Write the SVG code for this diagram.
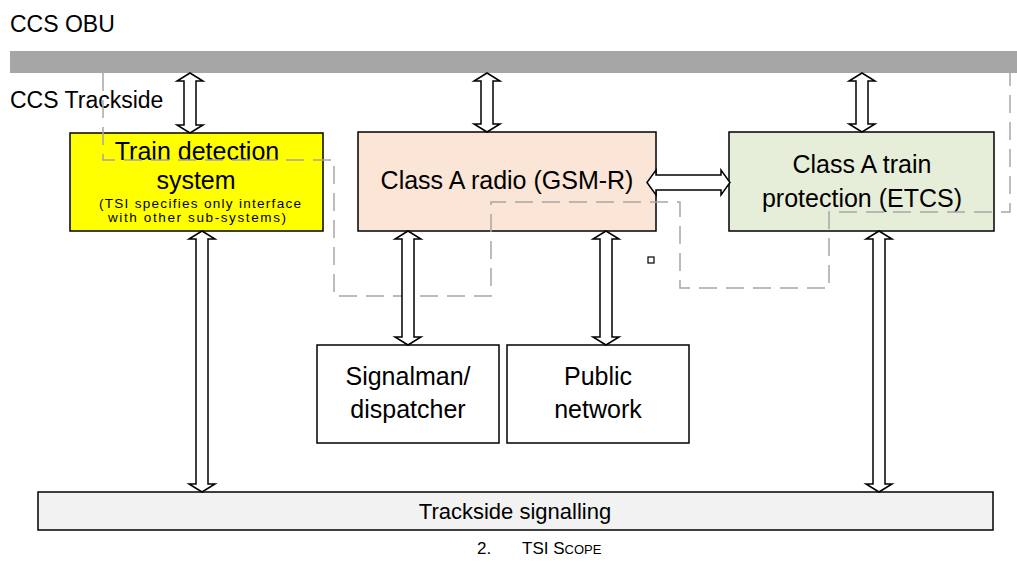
<svg xmlns="http://www.w3.org/2000/svg" width="1017" height="562" viewBox="0 0 1017 562">
<style>
text{font-family:"Liberation Sans",Arial,sans-serif;fill:#000}
.box{stroke:#000;stroke-width:1.5}
.arr{fill:#fff;stroke:#000;stroke-width:1.5;stroke-linejoin:miter}
.lbl{font-size:25px;text-anchor:middle}
.small{font-size:13.5px;text-anchor:middle}
.dash{fill:none;stroke:#a6a6a6;stroke-width:1.5;stroke-dasharray:18 9}
</style>
<rect width="1017" height="562" fill="#fff"/>
<g id="obu-bar">
<rect x="10" y="51" width="1007" height="22" fill="#a6a6a6"/>
<text x="10" y="32" font-size="23px">CCS OBU</text>
<text x="10" y="108" font-size="23px">CCS Trackside</text>
</g>
<g id="train-detection">
<rect class="box" x="70" y="133" width="253" height="98" fill="#ffff00"/>
<text class="lbl" x="197" y="160" font-size="26px">Train detection</text>
<text class="lbl" x="196" y="189" font-size="26px">system</text>
<text class="small" x="200" y="208" textLength="202" lengthAdjust="spacing">(TSI specifies only interface</text>
<text class="small" x="197" y="222" textLength="178" lengthAdjust="spacing">with other sub-systems)</text>
</g>
<g id="radio">
<rect class="box" x="358" y="132" width="298" height="99" fill="#fbe5d6"/>
<text class="lbl" x="507" y="189">Class A radio (GSM-R)</text>
</g>
<g id="etcs">
<rect class="box" x="729" y="132" width="265" height="99" fill="#e6eed9"/>
<text class="lbl" x="862" y="173">Class A train</text>
<text class="lbl" x="862" y="207">protection (ETCS)</text>
</g>
<g id="signalman">
<rect class="box" x="317" y="345" width="182" height="98" fill="#fff"/>
<text class="lbl" x="408" y="385">Signalman/</text>
<text class="lbl" x="408" y="418">dispatcher</text>
</g>
<g id="public-network">
<rect class="box" x="507" y="345" width="182" height="98" fill="#fff"/>
<text class="lbl" x="598" y="385">Public</text>
<text class="lbl" x="598" y="418">network</text>
</g>
<g id="trackside-signalling">
<rect class="box" x="38" y="492" width="955" height="38" fill="#f2f2f2"/>
<text x="515" y="519" font-size="22px" text-anchor="middle">Trackside signalling</text>
</g>
<g id="scope-outline">
<polyline class="dash" points="103,73 103,160 334,160 334,296 491,296 491,202 680,202 680,288 829,288 829,212 1010,212 1010,73"/>
<rect x="648" y="257" width="6" height="6" fill="#fff" stroke="#000" stroke-width="1.2"/>
</g>
<g id="connectors">
<path class="arr" d="M190,73 L203,81 L196,81 L196,125 L203,125 L190,133 L177,125 L184,125 L184,81 L177,81 Z"/>
<path class="arr" d="M487,73 L500,81 L493,81 L493,124 L500,124 L487,132 L474,124 L481,124 L481,81 L474,81 Z"/>
<path class="arr" d="M862,73 L875,81 L868,81 L868,124 L875,124 L862,132 L849,124 L856,124 L856,81 L849,81 Z"/>
<path class="arr" d="M202,231 L215,239 L208,239 L208,484 L215,484 L202,492 L189,484 L196,484 L196,239 L189,239 Z"/>
<path class="arr" d="M879,231 L892,239 L885,239 L885,484 L892,484 L879,492 L866,484 L873,484 L873,239 L866,239 Z"/>
<path class="arr" d="M408,231 L421,239 L414,239 L414,337 L421,337 L408,345 L395,337 L402,337 L402,239 L395,239 Z"/>
<path class="arr" d="M606,231 L619,239 L612,239 L612,337 L619,337 L606,345 L593,337 L600,337 L600,239 L593,239 Z"/>
<path class="arr" d="M647,182.5 L656,170 L656,175 L721,175 L721,170 L730,182.5 L721,195 L721,190 L656,190 L656,195 Z"/>
</g>
<g id="caption">
<text x="477" y="554" font-size="17px">2.</text>
<text x="522" y="554" font-size="17px">TSI S<tspan font-size="13px">COPE</tspan></text>
</g>
</svg>
